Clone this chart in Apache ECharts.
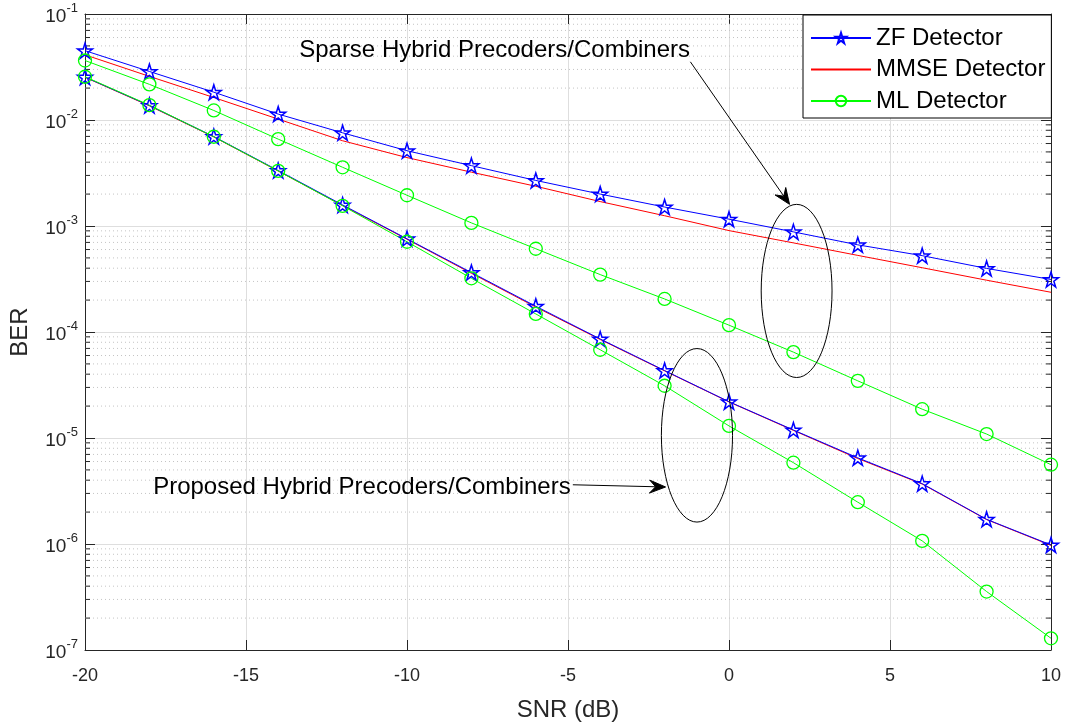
<!DOCTYPE html>
<html><head><meta charset="utf-8">
<script src="https://cdn.jsdelivr.net/npm/echarts@6/dist/echarts.min.js"></script>
<style>html,body{margin:0;padding:0;background:#fff}#c{width:1065px;height:727px}</style>
</head><body><div id="c"></div>
<script>
const snr = [-20,-18,-16,-14,-12,-10,-8,-6,-4,-2,0,2,4,6,8,10];
const sparseZF   = [0.0451,0.0287,0.0183,0.01137,0.00757,0.00513,0.00371,0.00269,0.00200,0.00151,0.00116,0.00088,0.000664,0.000525,0.000398,0.000313];
const sparseMMSE = [0.0412,0.0258,0.0163,0.0102,0.00637,0.00442,0.00322,0.00237,0.00170,0.00125,0.000905,0.000693,0.000528,0.000404,0.000308,0.000237];
const sparseML   = [0.0364,0.0217,0.0123,0.0066,0.00358,0.00195,0.00107,0.00061,0.000348,0.000205,0.000116,6.46e-5,3.46e-5,1.87e-5,1.09e-5,5.6e-6];
const propZF     = [0.0254,0.0137,0.00698,0.00334,0.00158,0.000757,0.000364,0.000175,8.6e-5,4.33e-5,2.2e-5,1.19e-5,6.5e-6,3.71e-6,1.71e-6,9.8e-7];
const propMMSE   = [0.0253,0.0136,0.00692,0.00330,0.00156,0.00075,0.000358,0.000172,8.5e-5,4.3e-5,2.19e-5,1.18e-5,6.4e-6,3.68e-6,1.70e-6,9.7e-7];
const propML     = [0.0256,0.0138,0.00695,0.00331,0.00155,0.00071,0.000321,0.000148,6.8e-5,3.11e-5,1.30e-5,5.85e-6,2.48e-6,1.07e-6,3.56e-7,1.29e-7];
const legendNames = ['ZF Detector','MMSE Detector','ML Detector'];
const xLabel = 'SNR (dB)';
const yLabel = 'BER';
const noteSparse = 'Sparse Hybrid Precoders/Combiners';
const noteProposed = 'Proposed Hybrid Precoders/Combiners';

const FONT = "'Liberation Sans', Arial, sans-serif";
const STAR = 'path://M50,0 L61.2,34.5 L97.6,34.5 L68.2,55.9 L79.4,90.5 L50,69.1 L20.6,90.5 L31.8,55.9 L2.4,34.5 L38.8,34.5 Z';
const BLUE = '#0000ff', RED = '#ff0000', GREEN = '#00ff00';

// minor values 2..9 per decade
const minorVals = [];
for (let e = -7; e < -1; e++) for (let m = 2; m <= 9; m++) minorVals.push(m * Math.pow(10, e));

function pairs(ys){ return snr.map((x,i)=>[x, ys[i]]); }

function mkSeries(name, ys, kind){
  const base = {name, type:'line', data: pairs(ys), z: 3, animation:false, silent:true};
  if (kind==='zf') return Object.assign(base,{symbol:STAR, symbolSize:15, showAllSymbol:true,
      lineStyle:{color:BLUE,width:1}, itemStyle:{color:'rgba(255,255,255,0)',borderColor:BLUE,borderWidth:1.5}});
  if (kind==='mmse') return Object.assign(base,{symbol:'none', lineStyle:{color:RED,width:1}, itemStyle:{color:RED}});
  return Object.assign(base,{symbol:'circle', symbolSize:13, lineStyle:{color:GREEN,width:1},
      itemStyle:{color:'rgba(255,255,255,0)',borderColor:GREEN,borderWidth:1.3}});
}

const chart = echarts.init(document.getElementById('c'), null, {renderer:'canvas'});
const axisCol = '#262626';
const option = {
  animation:false,
  backgroundColor:'#fff',
  grid:{left:85, right:14, top:14, bottom:71},
  legend:{
    data: [
      {name:legendNames[0]},
      {name:legendNames[1], itemStyle:{opacity:0}},
      {name:legendNames[2]}
    ],
    orient:'vertical', left:803, top:15,
    itemWidth:60, itemHeight:13, itemGap:7.5,
    padding:[11,6,5,7],
    backgroundColor:'#fff', borderColor:'#000', borderWidth:1, borderRadius:0,
    textStyle:{fontFamily:FONT, fontSize:24, lineHeight:24, color:'#000'},
    selectedMode:false
  },
  xAxis:[{
    type:'value', min:-20, max:10, interval:5,
    name:xLabel, nameLocation:'middle', nameGap:48,
    nameTextStyle:{fontFamily:FONT, fontSize:24, color:'#262626'},
    axisLine:{show:true, onZero:false, lineStyle:{color:axisCol,width:1}},
    axisTick:{show:true, inside:true, length:10, lineStyle:{color:axisCol}},
    axisLabel:{fontFamily:FONT, fontSize:18, color:'#262626', margin:17},
    splitLine:{show:true, lineStyle:{color:'#dedede', width:1}}
  },{
    type:'value', min:-20, max:10, interval:5, position:'top',
    axisLine:{show:true, onZero:false, lineStyle:{color:axisCol,width:1}},
    axisTick:{show:true, inside:true, length:10, lineStyle:{color:axisCol}},
    axisLabel:{show:false}, splitLine:{show:false}
  }],
  yAxis:[{
    type:'log', logBase:10, min:1e-7, max:1e-1, splitNumber:6,
    name:yLabel, nameLocation:'middle', nameGap:53, nameRotate:90,
    nameTextStyle:{fontFamily:FONT, fontSize:24, color:'#262626'},
    axisLine:{show:true, onZero:false, lineStyle:{color:axisCol,width:1}},
    axisTick:{show:true, inside:true, length:10, lineStyle:{color:axisCol}},
    axisLabel:{margin:7, formatter:function(v){
        const e = Math.round(Math.log10(v));
        return '{b|10}{s|' + e + '}';
      },
      rich:{b:{fontFamily:FONT,fontSize:19,color:'#262626',padding:[5,0,0,0]},
            s:{fontFamily:FONT,fontSize:13,color:'#262626',verticalAlign:'top',padding:[0,0,0,0]}}},
    splitLine:{show:true, lineStyle:{color:'#dedede', width:1}}
  },{
    type:'log', logBase:10, min:1e-7, max:1e-1, splitNumber:6, position:'right',
    axisLine:{show:true, onZero:false, lineStyle:{color:axisCol,width:1}},
    axisTick:{show:true, inside:true, length:10, lineStyle:{color:axisCol}},
    axisLabel:{show:false}, splitLine:{show:false}
  }],
  series:[
    {
      type:'custom', z:1, silent:true, animation:false,
      data: minorVals.map(v=>[v]),
      encode:{x:-1, y:0},
      renderItem:function(params, api){
        const v = api.value(0);
        const pL = api.coord([-20, v]);
        const pR = api.coord([10, v]);
        return {type:'group', children:[
          {type:'line', shape:{x1:pL[0], y1:pL[1], x2:pR[0], y2:pR[1]},
            style:{stroke:'#c4c4c4', lineWidth:1, lineDash:[1,3]}},
          {type:'line', shape:{x1:pL[0], y1:pL[1], x2:pL[0]+5, y2:pL[1]},
            style:{stroke:axisCol, lineWidth:1}},
          {type:'line', shape:{x1:pR[0], y1:pR[1], x2:pR[0]-5, y2:pR[1]},
            style:{stroke:axisCol, lineWidth:1}}
        ]};
      }
    },
    mkSeries(legendNames[0], sparseZF, 'zf'),
    mkSeries(legendNames[1], sparseMMSE, 'mmse'),
    mkSeries(legendNames[2], sparseML, 'ml'),
    mkSeries(legendNames[1], propMMSE, 'mmse'),
    mkSeries(legendNames[0], propZF, 'zf'),
    mkSeries(legendNames[2], propML, 'ml')
  ]
};
chart.setOption(option);

// annotations anchored in data coordinates
function px(x,y){ return chart.convertToPixel({xAxisIndex:0, yAxisIndex:0}, [x,y]); }
function ellipseFrom(x0,x1,y0,y1){
  const a = px(x0,y0), b = px(x1,y1);
  return {type:'ellipse', z:10, silent:true,
    shape:{cx:(a[0]+b[0])/2, cy:(a[1]+b[1])/2, rx:Math.abs(b[0]-a[0])/2, ry:Math.abs(b[1]-a[1])/2},
    style:{fill:'none', stroke:'#000', lineWidth:1}};
}
function arrow(p0,p1){
  const dx=p1[0]-p0[0], dy=p1[1]-p0[1], L=Math.hypot(dx,dy), ux=dx/L, uy=dy/L, nx=-uy, ny=ux;
  const hl=16, hw=6.5, notch=10;
  const bx=p1[0]-ux*hl, by=p1[1]-uy*hl;
  const mx=p1[0]-ux*notch, my=p1[1]-uy*notch;
  return [
    {type:'line', z:10, silent:true, shape:{x1:p0[0],y1:p0[1],x2:mx,y2:my}, style:{stroke:'#000',lineWidth:1}},
    {type:'polygon', z:10, silent:true, shape:{points:[[p1[0],p1[1]],[bx+nx*hw,by+ny*hw],[mx,my],[bx-nx*hw,by-ny*hw]]},
      style:{fill:'#000', stroke:'#000', lineWidth:1}}
  ];
}
const t1 = px(-7.28, 0.0455), t2 = px(-11.4, 3.45e-6);
const graphics = [
  ellipseFrom(1.0, 3.2, 1.6e-3, 3.72e-5),
  ellipseFrom(-2.1, 0.11, 6.98e-5, 1.61e-6),
  ...arrow(px(-1.2, 0.0354), px(1.88, 1.6e-3)),
  ...arrow(px(-4.85, 3.62e-6), px(-1.97, 3.45e-6)),
  {type:'text', z:10, silent:true, x:t1[0], y:t1[1],
    style:{text:noteSparse, fontFamily:FONT, fontSize:24, fill:'#000', align:'center', verticalAlign:'middle'}},
  {type:'text', z:10, silent:true, x:t2[0], y:t2[1],
    style:{text:noteProposed, fontFamily:FONT, fontSize:24, fill:'#000', align:'center', verticalAlign:'middle'}}
];
chart.setOption({graphic: graphics});
</script></body></html>
